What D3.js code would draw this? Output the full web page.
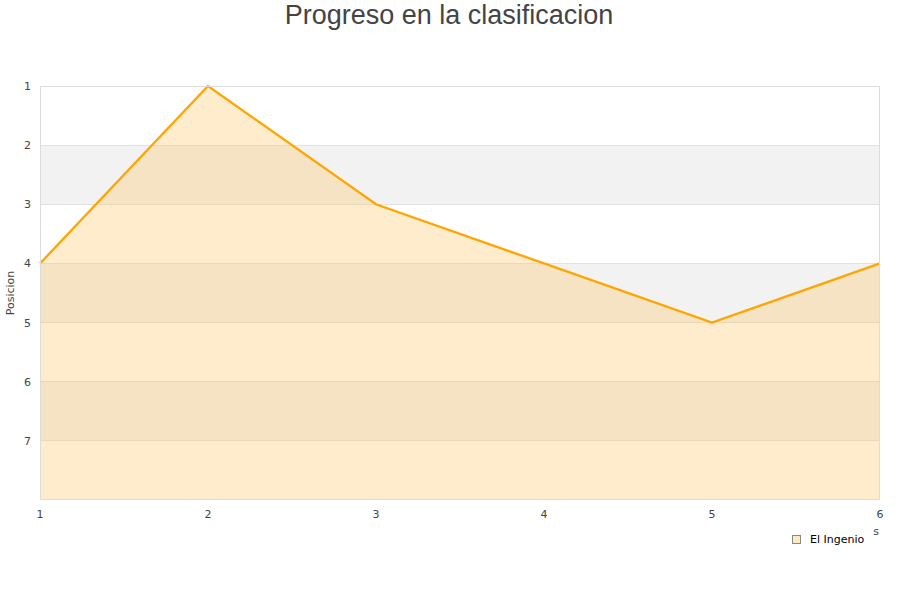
<!DOCTYPE html>
<html><head><meta charset="utf-8">
<script src="https://cdn.jsdelivr.net/npm/d3@7"></script>
<style>body{margin:0;background:#fff}svg{display:block}</style>
</head><body>
<svg id="c" width="900" height="600"></svg>
<script>
const rounds = [1, 2, 3, 4, 5, 6];
const positions = [4, 1, 3, 4, 5, 4];
const yTicks = [1, 2, 3, 4, 5, 6, 7];
const seriesName = "El Ingenio";
const title = "Progreso en la clasificacion";

const svg = d3.select("#c");
const L = 40, R = 880, T = 86, B = 500;
const x = d3.scaleLinear().domain([1, 6]).range([L, R]);
const y = d3.scaleLinear().domain([1, 8]).range([T, B]);
const font = "DejaVu Sans, sans-serif";

// alternating bands
[2, 4, 6].forEach(v => {
  svg.append("rect").attr("x", L).attr("y", y(v)).attr("width", R - L)
    .attr("height", y(v + 1) - y(v)).attr("fill", "#f2f2f2");
});
// grid lines
d3.range(2, 8).forEach(v => {
  svg.append("line").attr("x1", L).attr("x2", R).attr("y1", y(v)).attr("y2", y(v))
    .attr("stroke", "#e2e2e2").attr("stroke-width", 1).attr("shape-rendering", "crispEdges");
});

const data = rounds.map((r, i) => ({ r, p: positions[i] }));
svg.append("path").datum(data)
  .attr("d", d3.area().x(d => x(d.r)).y0(y(8)).y1(d => y(d.p)))
  .attr("fill", "rgba(255,192,85,0.3)");
svg.append("path").datum(data)
  .attr("d", d3.line().x(d => x(d.r)).y(d => y(d.p)))
  .attr("fill", "none").attr("stroke", "#FFA500").attr("stroke-width", 2.3);

// border
svg.append("rect").attr("x", L + 0.5).attr("y", T + 0.5).attr("width", R - L - 1).attr("height", B - T - 1)
  .attr("fill", "none").attr("stroke", "#dcdcdc");

// y ticks
svg.selectAll(".yt").data(yTicks).enter().append("text")
  .attr("x", 31).attr("y", d => y(d) + 4).attr("text-anchor", "end")
  .attr("font-family", font).attr("font-size", 11).attr("fill", "#444").text(d => d);
// x ticks
svg.selectAll(".xt").data(rounds).enter().append("text")
  .attr("x", d => x(d)).attr("y", 518).attr("text-anchor", "middle")
  .attr("font-family", font).attr("font-size", 11).attr("fill", "#444").text(d => d);

// y label
svg.append("text").attr("transform", "translate(14,293) rotate(-90)")
  .attr("text-anchor", "middle").attr("font-family", font).attr("font-size", 11)
  .attr("fill", "#444").text("Posicion");

// visible tail of the x-axis title (rest is hidden behind the legend)
svg.append("text").attr("x", 879).attr("y", 535).attr("text-anchor", "end")
  .attr("font-family", font).attr("font-size", 11).attr("fill", "#444").text("s");

// title
svg.append("text").attr("x", 449).attr("y", 24).attr("text-anchor", "middle")
  .attr("font-family", "Liberation Sans, Arial, sans-serif").attr("font-size", 27)
  .attr("fill", "#444").text(title);

// legend
svg.append("rect").attr("x", 792.5).attr("y", 535.5).attr("width", 8).attr("height", 8)
  .attr("fill", "#ffe9c4").attr("stroke", "#888");
svg.append("text").attr("x", 810).attr("y", 543).attr("font-family", font)
  .attr("font-size", 11).attr("fill", "#000").text(seriesName);
</script>
</body></html>
